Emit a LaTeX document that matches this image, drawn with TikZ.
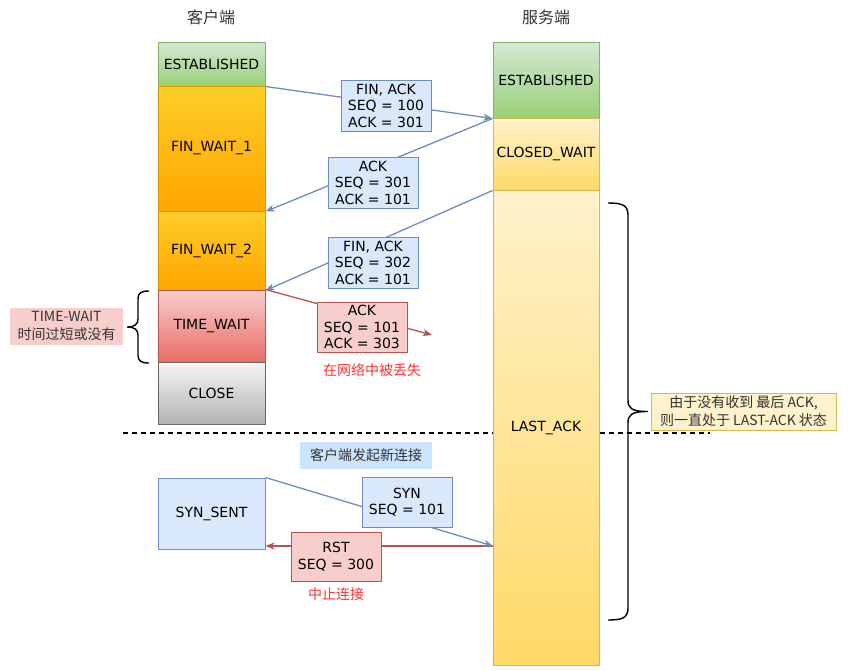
\documentclass[tikz,border=0pt]{standalone}
\usepackage{fontspec}
\setmainfont{DejaVu Sans}
\newfontfamily\cjk{Noto Sans CJK SC}
\usetikzlibrary{arrows.meta}
\definecolor{grnT}{HTML}{D5E8D4}
\definecolor{grnB}{HTML}{97D077}
\definecolor{grnD}{HTML}{82B366}
\definecolor{orgT}{HTML}{FFCD28}
\definecolor{orgB}{HTML}{FFA500}
\definecolor{orgD}{HTML}{D79B00}
\definecolor{yelT}{HTML}{FFF2CC}
\definecolor{yelB}{HTML}{FFD966}
\definecolor{yelD}{HTML}{D6B656}
\definecolor{redT}{HTML}{F8CECC}
\definecolor{redB}{HTML}{EA6B66}
\definecolor{redD}{HTML}{B85450}
\definecolor{gryT}{HTML}{F5F5F5}
\definecolor{gryB}{HTML}{B3B3B3}
\definecolor{gryD}{HTML}{666666}
\definecolor{bluF}{HTML}{DAE8FC}
\definecolor{bluD}{HTML}{6C8EBF}
\definecolor{lblu}{HTML}{CCE5FF}
\definecolor{noteRed}{HTML}{FF3333}
\definecolor{darkTxt}{HTML}{333333}
\newcommand\mystatefont{\fontsize{14}{16.5}\selectfont}
\newcommand\mycjkfont{\cjk\fontsize{14}{18}\selectfont}
\begin{document}
\begin{tikzpicture}[x=1pt,y=-1pt,
  st/.style={draw, line width=1pt, minimum width=107pt, inner sep=0pt, font=\mystatefont, text=black},
  sst/.style={st, minimum width=106pt},
  greenst/.style={top color=grnT, bottom color=grnB, draw=grnD},
  orangest/.style={top color=orgT, bottom color=orgB, draw=orgD},
  yellowst/.style={top color=yelT, bottom color=yelB, draw=yelD},
  redst/.style={top color=redT, bottom color=redB, draw=redD},
  greyst/.style={top color=gryT, bottom color=gryB, draw=gryD},
  bluest/.style={fill=bluF, draw=bluD},
  msg/.style={draw, line width=1pt, align=center, inner sep=1pt, minimum width=90pt,
     font=\mystatefont, text=black},
  bmsg/.style={msg, fill=bluF, draw=bluD},
  rmsg/.style={msg, fill=redT, draw=redD},
  barrow/.style={draw=bluD, line width=1.3pt, -{Stealth[length=9pt,width=7pt,inset=2.5pt]}},
  rarrow/.style={draw=redD, line width=1.3pt, -{Stealth[length=9pt,width=7pt,inset=2.5pt]}},
  brc/.style={draw=black, line width=1.4pt},
  title/.style={font=\cjk\fontsize{16}{19}\selectfont, text=darkTxt},
  note/.style={font=\mycjkfont, text=noteRed},
  lbl/.style={font=\mycjkfont, text=darkTxt, align=center, inner sep=0pt}
]
\fill[white] (0,0) rectangle (854,670);
\useasboundingbox (0,0) rectangle (854,670);

% separator (behind columns)
\draw[black, line width=1.4pt, dash pattern=on 5pt off 4pt] (123,433) -- (710,433);

% titles
\node[title] (ct) at (211,17) {客户端};
\node[title] (svt) at (546,17) {服务端};

% client column
\node[st, greenst, minimum height=44pt] (cest) at (211.5,64) {ESTABLISHED};
\node[st, orangest, minimum height=125pt] (fw1) at (211.5,148.5) {FIN\_WAIT\_1};
\node[st, orangest, minimum height=79pt] (fw2) at (211.5,250.5) {FIN\_WAIT\_2};
\node[st, redst, minimum height=72pt] (tw) at (211.5,326) {TIME\_WAIT};
\node[st, greyst, minimum height=62pt] (cl) at (211.5,393) {CLOSE};
\node[st, bluest, minimum height=71pt] (ss) at (211.5,513.5) {SYN\_SENT};

% server column
\node[sst, greenst, minimum height=76pt] (sest) at (546,80) {ESTABLISHED};
\node[sst, yellowst, minimum height=72pt] (scw) at (546,154) {CLOSED\_WAIT};
\node[sst, yellowst, minimum height=475pt] (sla) at (546,427.5) {LAST\_ACK};

% connectors
\draw[barrow] (cest.south east) -- (sest.south west);
\draw[barrow] (sest.south west) -- (fw1.south east);
\draw[barrow] (scw.south west) -- (fw2.south east);
\coordinate (lost) at (432,335);
\draw[rarrow] (tw.north east) -- (lost);
\coordinate (synhit) at (493,546);
\draw[rarrow] (synhit) -- (synhit -| ss.east);
\draw[barrow] (ss.north east) -- (synhit);

% messages
\node[bmsg, minimum height=51pt] (m1) at (386,105.5) {FIN, ACK\\SEQ = 100\\ACK = 301};
\node[bmsg, minimum height=51pt] (m2) at (373,182.5) {ACK\\SEQ = 301\\ACK = 101};
\node[bmsg, minimum height=51pt] (m3) at (373,262.5) {FIN, ACK\\SEQ = 302\\ACK = 101};
\node[rmsg, minimum height=50pt] (m4) at (362,327) {ACK\\SEQ = 101\\ACK = 303};
\node[bmsg, minimum height=50pt] (m5) at (407,502) {SYN\\SEQ = 101};
\node[rmsg, minimum height=49pt] (m6) at (336,556.5) {RST\\SEQ = 300};

% notes
\node[note] (lostlbl) at (372,370) {在网络中被丢失};
\node[note] (abortlbl) at (336,594) {中止连接};
\node[lbl, fill=lblu, minimum width=132pt, minimum height=27pt] (newc) at (366,455.5) {客户端发起新连接};
\node[lbl, fill=redT, minimum width=113pt, minimum height=37pt] (twnote) at (66.5,326) {TIME-WAIT\\时间过短或没有};
\node[lbl, fill=yelT, draw=yelD, line width=1pt, minimum width=185pt, minimum height=37pt] (lanote) at (743.5,411.5) {由于没有收到 最后 ACK,\\则一直处于 LAST-ACK 状态};

% braces
\draw[brc] (149,291) .. controls (141,291) and (138,293) .. (138,299) -- (138,319)
  .. controls (138,324) and (135,327) .. (127,327)
  .. controls (135,327) and (138,330) .. (138,335) -- (138,355)
  .. controls (138,361) and (141,363) .. (149,363);
\draw[brc] (608,203) .. controls (622,203) and (628,205) .. (628,215) -- (628,400)
  .. controls (628,408) and (631,411.5) .. (648,411.5)
  .. controls (631,411.5) and (628,415) .. (628,423) -- (628,608)
  .. controls (628,618) and (622,620) .. (608,620);
\end{tikzpicture}
\end{document}
